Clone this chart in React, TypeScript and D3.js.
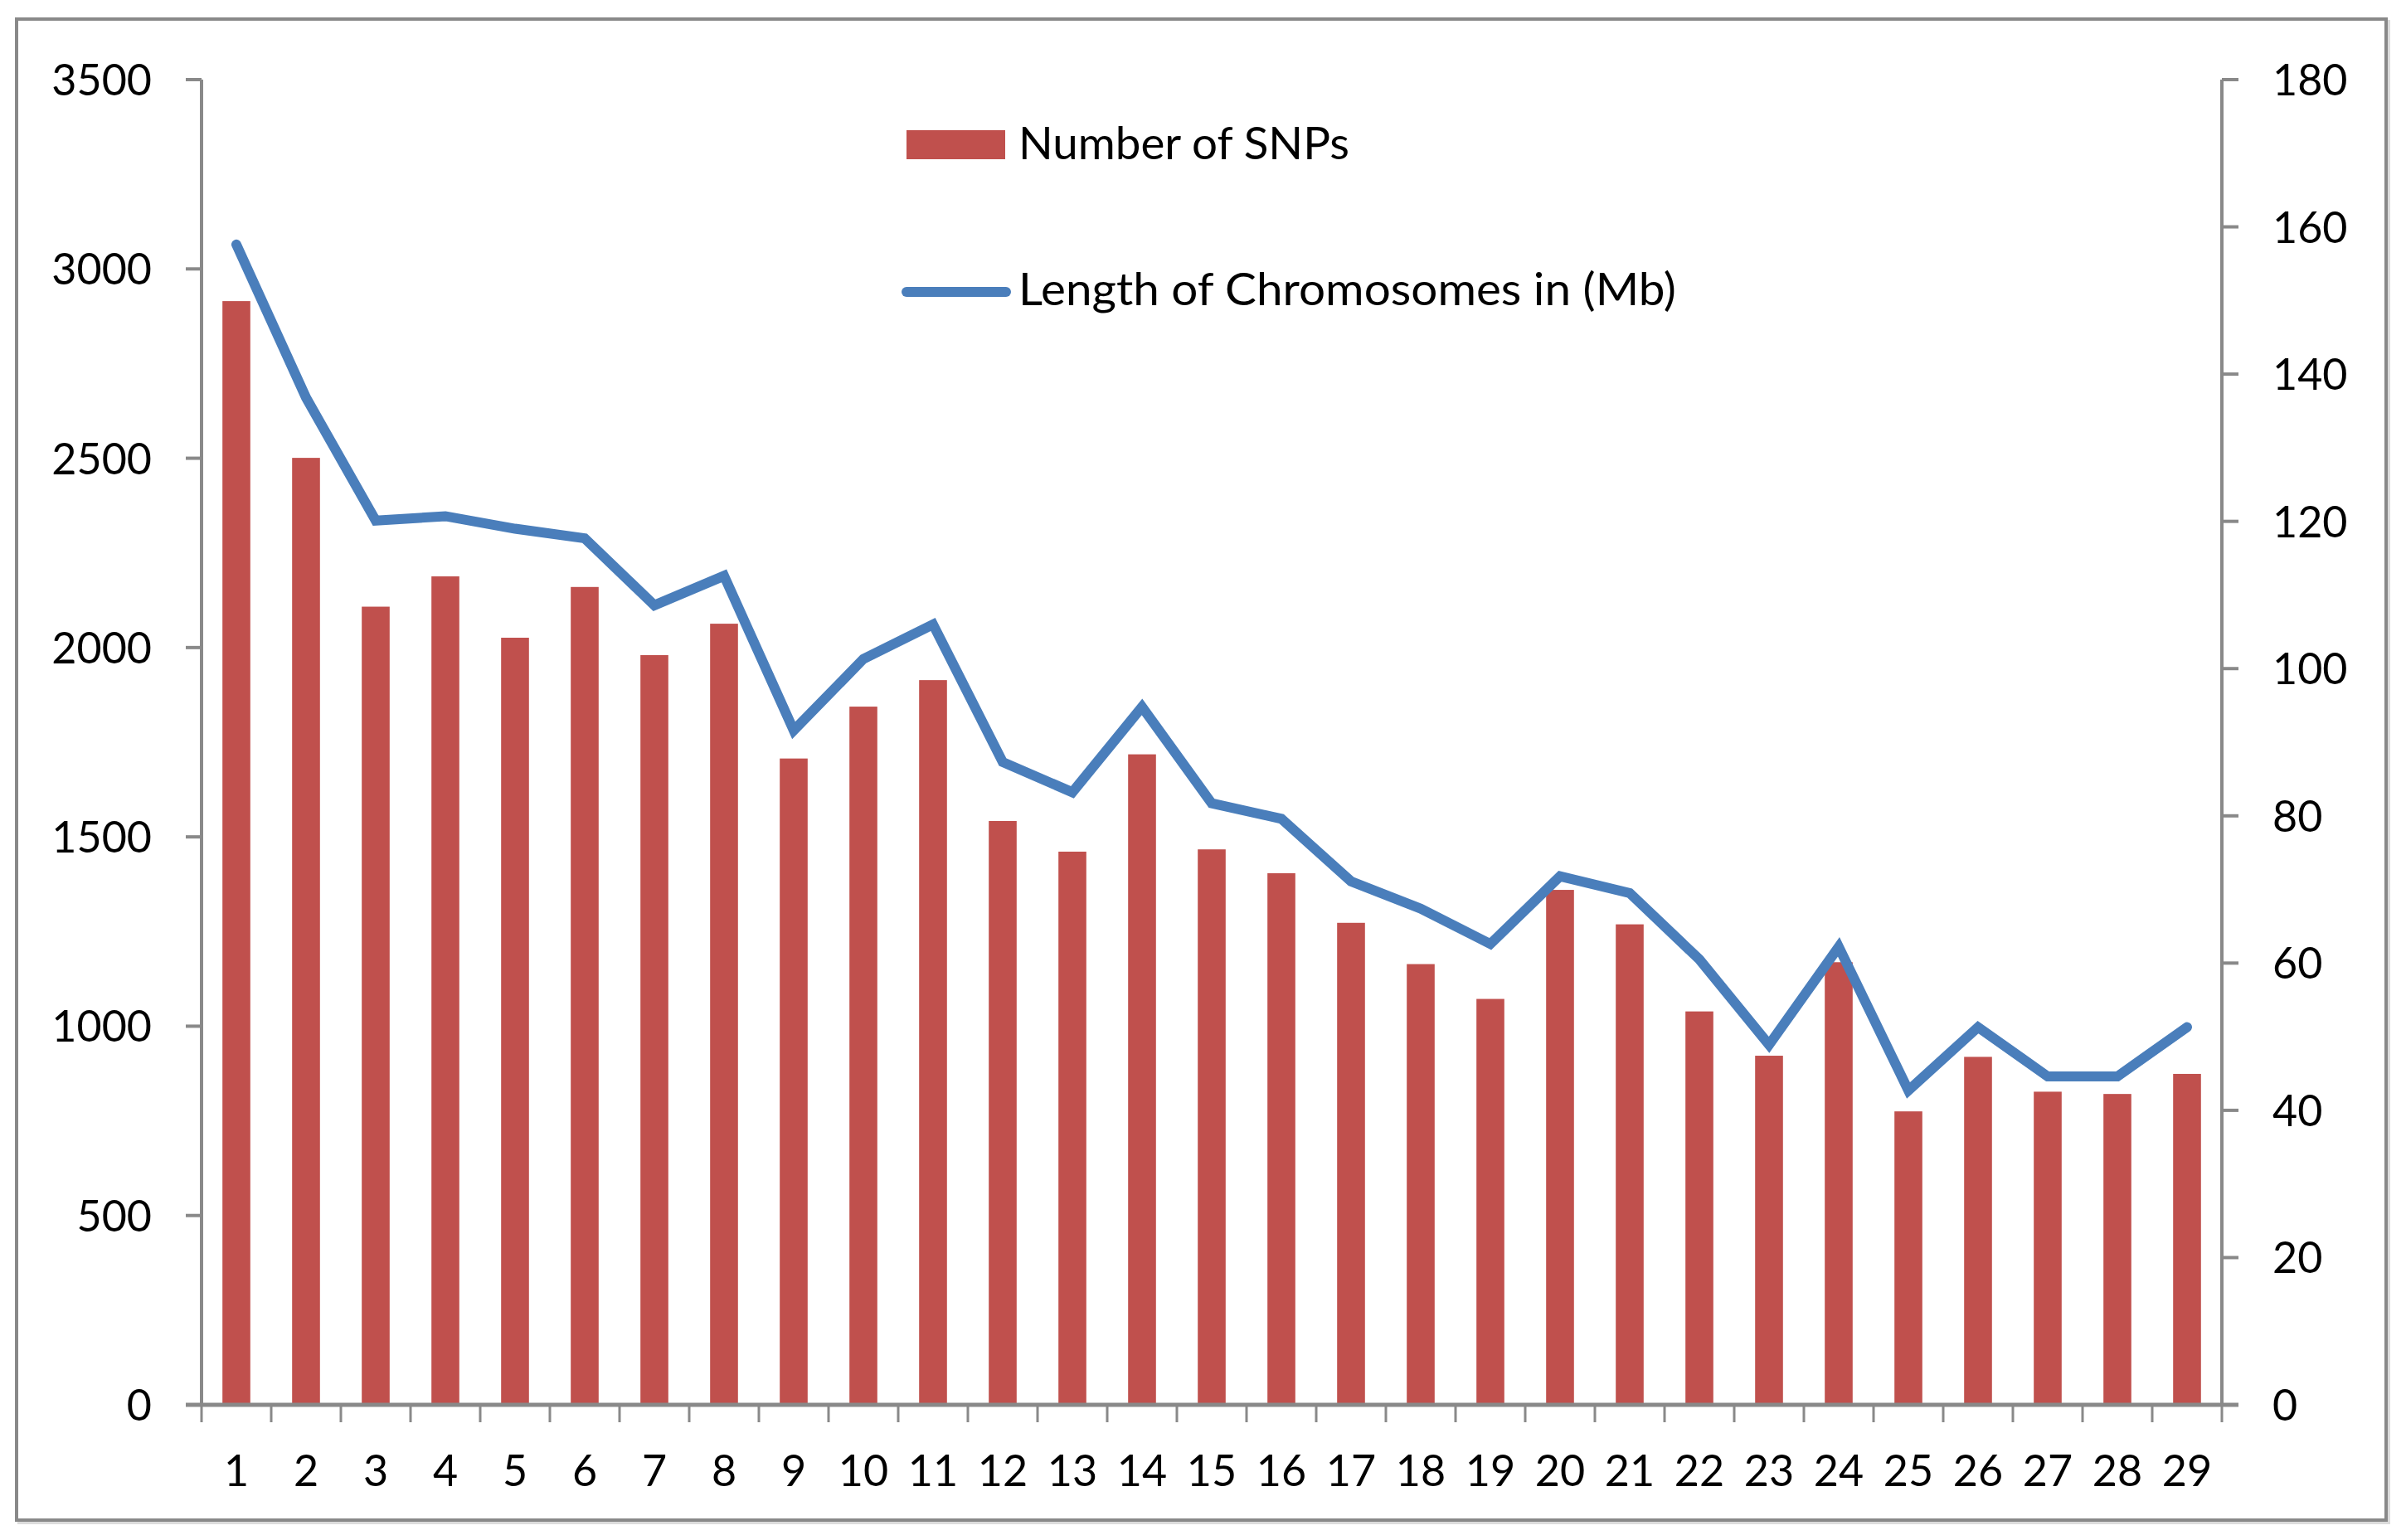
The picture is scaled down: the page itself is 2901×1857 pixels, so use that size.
import * as d3 from "d3";

const chromosomes = [
  "1", "2", "3", "4", "5", "6", "7", "8", "9", "10",
  "11", "12", "13", "14", "15", "16", "17", "18", "19", "20",
  "21", "22", "23", "24", "25", "26", "27", "28", "29",
];

const snpCounts = [
  2915, 2501, 2108, 2188, 2026, 2160, 1980, 2063, 1707, 1844,
  1914, 1542, 1461, 1718, 1467, 1404, 1273, 1164, 1072, 1360,
  1269, 1039, 922, 1169, 775, 919, 827, 821, 874,
];

const lengthMb = [
  157.6, 136.8, 120.1, 120.7, 119.0, 117.7, 108.6, 112.6, 91.6, 101.3,
  106.0, 87.3, 83.2, 94.8, 81.7, 79.6, 71.1, 67.4, 62.6, 71.8,
  69.5, 60.5, 48.9, 62.2, 42.7, 51.3, 44.6, 44.6, 51.3,
];

const leftTicks = [0, 500, 1000, 1500, 2000, 2500, 3000, 3500];
const rightTicks = [0, 20, 40, 60, 80, 100, 120, 140, 160, 180];

const legendBar = "Number of SNPs";
const legendLine = "Length of Chromosomes in (Mb)";

const W = 2901;
const H = 1857;
const plot = { left: 243, right: 2679, top: 96, bottom: 1694 };

const AXIS = "#898989";
const BAR = "#C0504D";
const LINE = "#4A7EBB";
const FONT = "Lato, 'Open Sans', sans-serif";
const FS = 52;

export default function App() {
  const x = d3
    .scaleBand<string>()
    .domain(chromosomes)
    .range([plot.left, plot.right])
    .paddingInner(0.6)
    .paddingOuter(0.3);

  const yLeft = d3.scaleLinear().domain([0, 3500]).range([plot.bottom, plot.top]);
  const yRight = d3.scaleLinear().domain([0, 180]).range([plot.bottom, plot.top]);

  const step = x.step();
  const bw = x.bandwidth();
  const boundaries = d3.range(chromosomes.length + 1).map((i) => plot.left + i * step);

  const line = d3
    .line<number>()
    .x((_, i) => (x(chromosomes[i]) ?? 0) + bw / 2)
    .y((d) => yRight(d));

  return (
    <svg
      width={W}
      height={H}
      style={{ position: "absolute", left: 0, top: 0, background: "#fff" }}
      fontFamily={FONT}
    >
      {/* outer frame with a faint shadow */}
      <rect x={23} y={26} width={2857} height={1810} fill="none" stroke="#dcdcdc" strokeWidth={4} />
      <rect x={20} y={23} width={2857} height={1810} fill="#fff" stroke={AXIS} strokeWidth={4} />

      {/* bars */}
      {snpCounts.map((v, i) => (
        <rect
          key={chromosomes[i]}
          x={x(chromosomes[i])}
          y={yLeft(v)}
          width={bw}
          height={yLeft(0) - yLeft(v)}
          fill={BAR}
        />
      ))}

      {/* line */}
      <path
        d={line(lengthMb) ?? ""}
        fill="none"
        stroke={LINE}
        strokeWidth={12}
        strokeLinecap="round"
        strokeLinejoin="miter"
      />

      {/* left axis */}
      <line x1={plot.left} x2={plot.left} y1={plot.top} y2={plot.bottom} stroke={AXIS} strokeWidth={4} />
      {leftTicks.map((t) => (
        <g key={"l" + t}>
          <line x1={plot.left - 19} x2={plot.left} y1={yLeft(t)} y2={yLeft(t)} stroke={AXIS} strokeWidth={4} />
          <text x={183} y={yLeft(t) + 19} textAnchor="end" fontSize={FS} fill="#000">
            {t}
          </text>
        </g>
      ))}

      {/* right axis */}
      <line x1={plot.right} x2={plot.right} y1={plot.top} y2={plot.bottom} stroke={AXIS} strokeWidth={4} />
      {rightTicks.map((t) => (
        <g key={"r" + t}>
          <line x1={plot.right} x2={plot.right + 20} y1={yRight(t)} y2={yRight(t)} stroke={AXIS} strokeWidth={4} />
          <text x={2740} y={yRight(t) + 19} textAnchor="start" fontSize={FS} fill="#000">
            {t}
          </text>
        </g>
      ))}

      {/* x axis */}
      <line x1={plot.left - 19} x2={plot.right + 20} y1={plot.bottom} y2={plot.bottom} stroke={AXIS} strokeWidth={5} />
      {boundaries.map((bx, i) => (
        <line key={"xt" + i} x1={bx} x2={bx} y1={plot.bottom} y2={plot.bottom + 21} stroke={AXIS} strokeWidth={3} />
      ))}
      {chromosomes.map((c) => (
        <text key={"xl" + c} x={(x(c) ?? 0) + bw / 2} y={1792} textAnchor="middle" fontSize={FS} fill="#000">
          {c}
        </text>
      ))}

      {/* legend */}
      <rect x={1093} y={157} width={119} height={35} fill={BAR} />
      <text x={1228} y={192} fontSize={55} fill="#000" textLength={399} lengthAdjust="spacingAndGlyphs">
        {legendBar}
      </text>
      <line x1={1093} x2={1213} y1={352} y2={352} stroke={LINE} strokeWidth={12} strokeLinecap="round" />
      <text x={1228} y={368} fontSize={55} fill="#000" textLength={793} lengthAdjust="spacingAndGlyphs">
        {legendLine}
      </text>
    </svg>
  );
}
